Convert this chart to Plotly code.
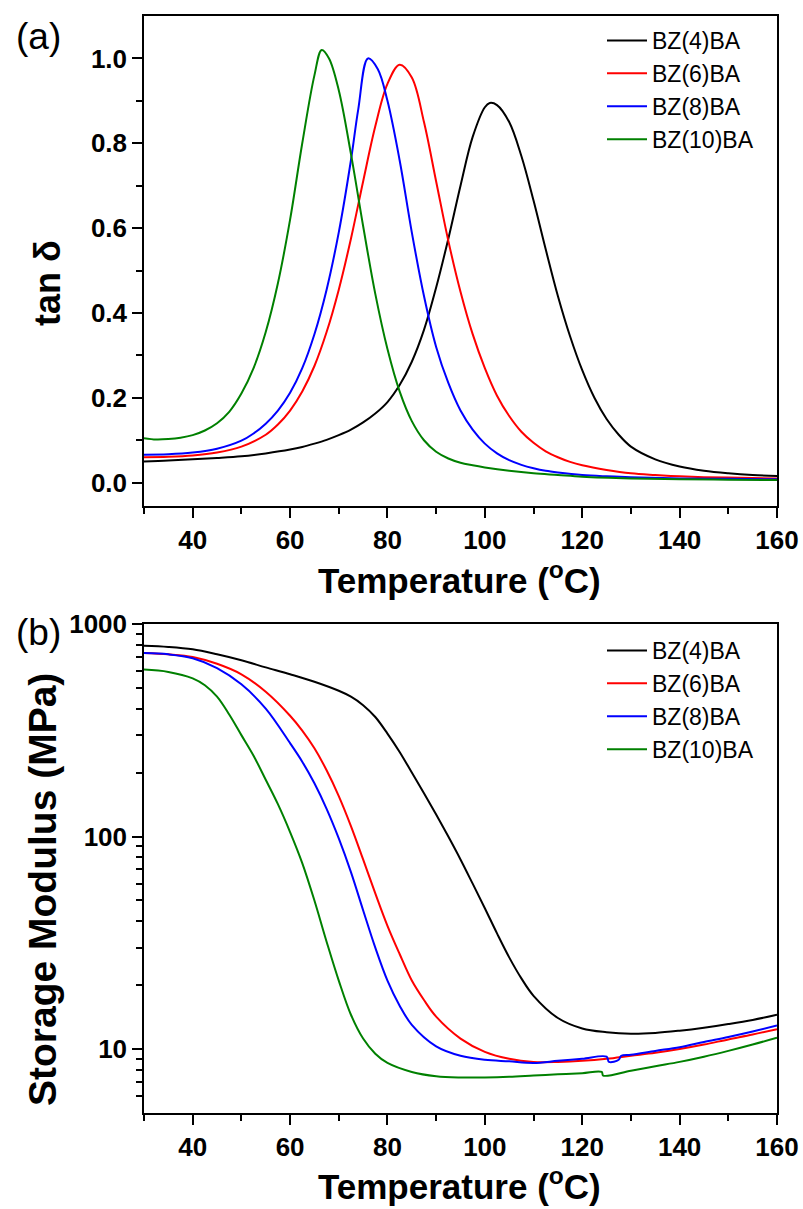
import plotly.graph_objects as go

W, H = 803, 1209

series_names = ["BZ(4)BA", "BZ(6)BA", "BZ(8)BA", "BZ(10)BA"]
series_colors = ["#000000", "#FF0000", "#0000FF", "#008000"]

# ---- panel (a): tan delta ----
T_tan_4 = [30, 35, 40, 45, 50, 55, 60, 62.5, 65, 67.5, 70, 72.5, 75, 77.5, 80, 82.5, 85, 87.5, 90, 92.5, 95,
           97.5, 100, 101, 102.5, 105, 107.5, 110, 112.5, 115, 117.5, 120, 122.5, 125, 127.5, 130, 135, 140, 145,
           150, 155, 160]
tan_4 = [0.050, 0.052, 0.055, 0.058, 0.062, 0.069, 0.078, 0.084, 0.092, 0.101, 0.112, 0.125, 0.142, 0.163, 0.19,
         0.23, 0.285, 0.36, 0.46, 0.575, 0.70, 0.815, 0.885, 0.895, 0.89, 0.85, 0.77, 0.665, 0.55, 0.44, 0.345,
         0.265, 0.20, 0.15, 0.113, 0.085, 0.055, 0.038, 0.028, 0.022, 0.018, 0.016]

T_tan_6 = [30, 35, 40, 45, 50, 55, 57.5, 60, 62.5, 65, 67.5, 70, 72.5, 75, 77.5, 80, 82.5, 85, 87.5, 90, 92.5, 95,
           97.5, 100, 102.5, 105, 107.5, 110, 112.5, 115, 117.5, 120, 125, 130, 135, 140, 145, 150, 155, 160]
tan_6 = [0.060, 0.061, 0.064, 0.071, 0.085, 0.113, 0.137, 0.17, 0.215, 0.275, 0.355, 0.455, 0.575, 0.71, 0.84,
         0.94, 0.985, 0.955, 0.85, 0.71, 0.57, 0.45, 0.35, 0.27, 0.205, 0.157, 0.12, 0.094, 0.074, 0.06, 0.049,
         0.041, 0.03, 0.022, 0.018, 0.015, 0.013, 0.012, 0.011, 0.010]

T_tan_8 = [30, 35, 40, 45, 50, 52.5, 55, 57.5, 60, 62.5, 65, 67.5, 70, 72.5, 74, 76, 78, 80, 82.5, 85, 87.5, 90,
           92.5, 95, 97.5, 100, 102.5, 105, 107.5, 110, 112.5, 115, 120, 125, 130, 140, 150, 160]
tan_8 = [0.066, 0.067, 0.071, 0.080, 0.099, 0.116, 0.139, 0.17, 0.212, 0.27, 0.35, 0.455, 0.59, 0.76, 0.88, 1.0,
         0.975, 0.90, 0.76, 0.59, 0.44, 0.32, 0.235, 0.17, 0.125, 0.092, 0.069, 0.053, 0.042, 0.034, 0.028, 0.024,
         0.018, 0.015, 0.013, 0.010, 0.009, 0.008]

T_tan_10 = [30, 32.5, 35, 37.5, 40, 42.5, 45, 47.5, 50, 52.5, 55, 57.5, 60, 62.5, 65, 66.5, 68, 70, 72.5, 75, 77.5,
            80, 82.5, 85, 87.5, 90, 92.5, 95, 97.5, 100, 105, 110, 115, 120, 130, 140, 150, 160]
tan_10 = [0.105, 0.102, 0.103, 0.106, 0.112, 0.123, 0.14, 0.167, 0.21, 0.27, 0.355, 0.47, 0.62, 0.80, 0.96, 1.02,
          1.0, 0.925, 0.775, 0.605, 0.445, 0.315, 0.215, 0.145, 0.10, 0.073, 0.057, 0.047, 0.041, 0.036, 0.028,
          0.022, 0.018, 0.014, 0.010, 0.008, 0.007, 0.006]

# ---- panel (b): storage modulus (MPa) ----
T_E_4 = [30, 35, 40, 45, 50, 55, 60, 65, 70, 72.5, 75, 77.5, 80, 82.5, 85, 87.5, 90, 92.5, 95, 97.5, 100, 102.5,
         105, 107.5, 110, 115, 120, 125, 130, 135, 140, 145, 150, 155, 160]
E_4 = [790, 780, 760, 720, 675, 625, 580, 535, 485, 455, 415, 365, 305, 250, 200, 160, 127, 100, 78, 60, 46, 35,
       27, 21.5, 17.8, 14, 12.5, 12.0, 11.8, 11.9, 12.2, 12.6, 13.1, 13.7, 14.5]

T_E_6 = [30, 35, 40, 45, 50, 55, 60, 62.5, 65, 67.5, 70, 72.5, 75, 77.5, 80, 82.5, 85, 87.5, 90, 95, 100, 105, 110,
         115, 120, 125, 130, 135, 140, 145, 150, 155, 160]
E_6 = [730, 720, 700, 650, 580, 480, 370, 315, 260, 205, 155, 112, 78, 54, 38, 28, 21, 17, 14.2, 11.2, 9.7, 9.0,
       8.7, 8.7, 8.8, 9.0, 9.3, 9.6, 10.0, 10.5, 11.1, 11.7, 12.4]

T_E_8 = [30, 35, 40, 45, 50, 55, 60, 62.5, 65, 67.5, 70, 72.5, 75, 77.5, 80, 82.5, 85, 90, 95, 100, 105, 110, 115,
         120, 125, 125.5, 127.5, 128, 130, 135, 140, 145, 150, 155, 160]
E_8 = [730, 720, 690, 620, 520, 400, 275, 225, 178, 135, 98, 68, 45, 30, 21, 16, 13, 10.3, 9.3, 8.9, 8.75, 8.6,
       8.8, 9.0, 9.2, 8.7, 8.9, 9.3, 9.4, 9.8, 10.2, 10.8, 11.4, 12.1, 12.9]

T_E_10 = [30, 35, 40, 42.5, 45, 47.5, 50, 52.5, 55, 57.5, 60, 62.5, 65, 67.5, 70, 72.5, 75, 77.5, 80, 85, 90, 95,
          100, 105, 110, 115, 120, 124, 124.3, 130, 135, 140, 145, 150, 155, 160]
E_10 = [610, 595, 555, 515, 455, 375, 300, 240, 185, 142, 105, 75, 50, 32, 21, 14.5, 11.2, 9.5, 8.6, 7.8, 7.45,
        7.35, 7.35, 7.4, 7.5, 7.6, 7.7, 7.8, 7.5, 7.9, 8.3, 8.7, 9.2, 9.8, 10.5, 11.3]

x_ticks = [40, 60, 80, 100, 120, 140, 160]
tan_ticks = [0.0, 0.2, 0.4, 0.6, 0.8, 1.0]
E_ticks = [10, 100, 1000]

tan_T = [T_tan_4, T_tan_6, T_tan_8, T_tan_10]
tan_Y = [tan_4, tan_6, tan_8, tan_10]
E_T = [T_E_4, T_E_6, T_E_8, T_E_10]
E_Y = [E_4, E_6, E_8, E_10]


def px_x(p):
    return p / W


def px_y(p):
    return 1 - p / H


FONT = "Liberation Sans, Arial, sans-serif"

fig = go.Figure()
for i in range(4):
    fig.add_trace(go.Scatter(x=tan_T[i], y=tan_Y[i], mode="lines", name=series_names[i],
                             line=dict(color=series_colors[i], width=2, shape="spline", smoothing=1.0),
                             xaxis="x", yaxis="y", legend="legend"))
for i in range(4):
    fig.add_trace(go.Scatter(x=E_T[i], y=E_Y[i], mode="lines", name=series_names[i],
                             line=dict(color=series_colors[i], width=2, shape="spline", smoothing=1.0),
                             xaxis="x2", yaxis="y2", legend="legend2"))

axis_common = dict(showline=True, linecolor="black", linewidth=1.5, mirror=True, ticks="outside",
                   ticklen=10, tickwidth=1.5, tickcolor="black", showgrid=False, zeroline=False,
                   automargin=False,
                   tickfont=dict(family=FONT, size=26, color="black", weight="bold"))

xdom = [px_x(144), px_x(777)]
xaxis_cfg = dict(axis_common, range=[30, 160], tickvals=x_ticks,
                 minor=dict(tickvals=[30, 50, 70, 90, 110, 130, 150], ticklen=6, tickwidth=1.5,
                            tickcolor="black", ticks="outside"))

legend_font = dict(family=FONT, size=23, color="black")

fig.update_layout(
    template="none",
    width=W, height=H, margin=dict(l=0, r=0, t=0, b=0, autoexpand=False),
    plot_bgcolor="white", paper_bgcolor="white",
    xaxis=dict(xaxis_cfg, domain=xdom, anchor="y"),
    yaxis=dict(axis_common, domain=[px_y(506), px_y(16)], range=[-0.055, 1.1], tickvals=tan_ticks,
               tickformat=".1f", anchor="x",
               minor=dict(tickvals=[0.1, 0.3, 0.5, 0.7, 0.9], ticklen=6, tickwidth=1.5,
                          tickcolor="black", ticks="outside")),
    xaxis2=dict(xaxis_cfg, domain=xdom, anchor="y2"),
    yaxis2=dict(axis_common, domain=[px_y(1113), px_y(624)], type="log", range=[0.699, 3],
                tickvals=E_ticks, ticktext=["10", "100", "1000"], anchor="x2",
                minor=dict(tickvals=[6, 7, 8, 9, 20, 30, 40, 50, 60, 70, 80, 90,
                                     200, 300, 400, 500, 600, 700, 800, 900],
                           ticklen=6, tickwidth=1.5, tickcolor="black", ticks="outside")),
    legend=dict(x=px_x(602), y=px_y(19), xanchor="left", yanchor="top", bgcolor="rgba(0,0,0,0)",
                font=legend_font, tracegroupgap=0, itemwidth=40),
    legend2=dict(x=px_x(602), y=px_y(629), xanchor="left", yanchor="top", bgcolor="rgba(0,0,0,0)",
                 font=legend_font, tracegroupgap=0, itemwidth=40),
    showlegend=True,
)

title_font = dict(family=FONT, size=35, color="black", weight="bold")
ann = [
    dict(text="Temperature (<sup>o</sup>C)", x=px_x(460), y=px_y(578), font=title_font),
    dict(text="Temperature (<sup>o</sup>C)", x=px_x(460), y=px_y(1184), font=title_font),
    dict(text="tan δ", x=px_x(47), y=px_y(283), textangle=-90,
         font=dict(family=FONT, size=36, color="black", weight="bold")),
    dict(text="Storage Modulus (MPa)", x=px_x(43), y=px_y(890), textangle=-90,
         font=dict(family=FONT, size=39, color="black", weight="bold")),
    dict(text="(a)", x=px_x(38), y=px_y(37), font=dict(family=FONT, size=37, color="black")),
    dict(text="(b)", x=px_x(38), y=px_y(632), font=dict(family=FONT, size=37, color="black")),
]
for a in ann:
    a.update(xref="paper", yref="paper", showarrow=False, xanchor="center", yanchor="middle")
fig.update_layout(annotations=ann)

fig.write_html("out.html")
